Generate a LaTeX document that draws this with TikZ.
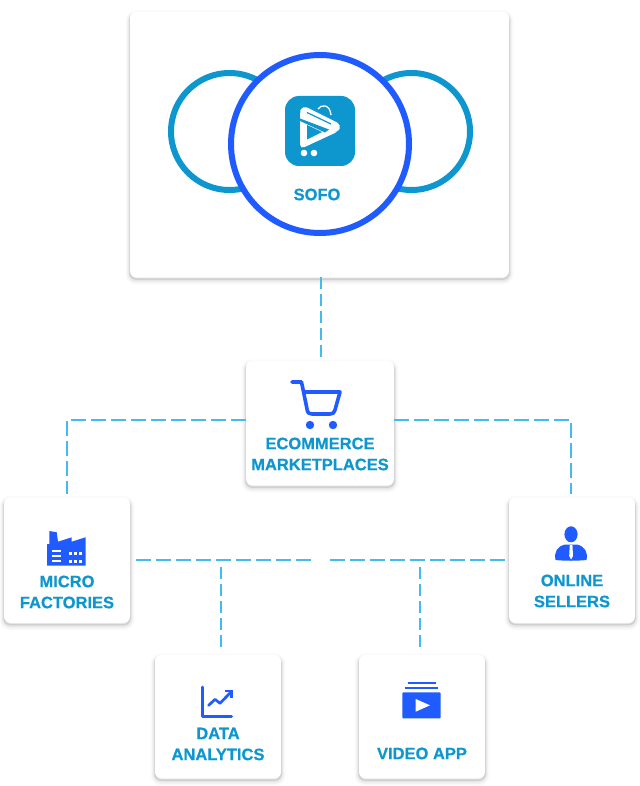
\documentclass[tikz,border=0pt]{standalone}
\usepackage{fontspec}
\setmainfont[BoldFeatures={FakeBold=0.6}]{Liberation Sans}
\definecolor{tealc}{HTML}{0E97CE}
\definecolor{bluec}{HTML}{1F5BFF}
\definecolor{dashc}{HTML}{44BBEE}
\tikzset{
  softshadow/.style={
    preaction={draw=black,draw opacity=.018,line width=9pt,transform canvas={yshift=-3pt}},
    preaction={draw=black,draw opacity=.03,line width=6pt,transform canvas={yshift=-3pt}},
    preaction={draw=black,draw opacity=.05,line width=3.5pt,transform canvas={yshift=-2.5pt}},
    preaction={draw=black,draw opacity=.10,line width=1.5pt,transform canvas={yshift=-2pt}}},
  card/.style={rectangle,rounded corners=6pt,fill=white,inner sep=0pt,softshadow},
  smallcard/.style={card,minimum width=126pt,minimum height=125pt},
  link/.style={draw=dashc,line width=1.9pt,dash pattern=on 15pt off 5pt},
  vlink/.style={draw=dashc,line width=1.9pt,dash pattern=on 12pt off 5pt},
  lab/.style={text=tealc,font=\fontsize{16.5}{21}\selectfont\bfseries,inner sep=0pt,align=center},
  iconline/.style={draw=bluec,line width=3.6pt,line cap=round,line join=round},
  ring/.style={draw=tealc,line width=6pt,fill=white},
}
\begin{document}
\begin{tikzpicture}[x=1pt,y=-1pt]
\useasboundingbox (0,0) rectangle (639,786);
% cards
\node[card,minimum width=379pt,minimum height=265pt] (sofo) at (319.5,144.5) {};
\node[card,minimum width=148pt,minimum height=124pt] (eco) at (320,423) {};
\node[smallcard] (micro) at (67,560) {};
\node[smallcard] (online) at (572,560) {};
\node[smallcard,minimum height=123pt] (data) at (218,716.5) {};
\node[smallcard,minimum height=123pt] (video) at (422,716.5) {};
% rings
\node[ring,circle,minimum size=117pt,inner sep=0pt] (ringL) at (229.5,131.5) {};
\node[ring,circle,minimum size=117pt,inner sep=0pt] (ringR) at (411.5,131.5) {};
\node[circle,draw=bluec,line width=6pt,fill=white,minimum size=178pt,inner sep=0pt] (ringC) at (320,144) {};
% connectors
\coordinate (midL) at (313,560);
\coordinate (midR) at (328,560);
\coordinate (dataT) at (221,567);
\coordinate (videoT) at (420,567);
\draw[vlink,shorten >=4pt] ([xshift=1pt]sofo.south -| eco.north) -- ([xshift=1pt]eco.north);
\draw[link,shorten >=3pt] ([yshift=3pt]eco.west) -| ([xshift=0pt]micro.north);
\draw[link,shorten >=3pt] ([yshift=3pt]eco.east) -| ([xshift=-1pt]online.north);
\draw[link,shorten <=6pt] (micro.east) -- (midL);
\draw[link,shorten <=4pt] (online.west) -- (midR);
\draw[vlink,shorten >=7pt] (dataT) -- (dataT |- data.north);
\draw[vlink,shorten >=7pt] (videoT) -- (videoT |- video.north);
% SOFO logo
\begin{scope}[shift={(285,96)}]
  \fill[tealc,rounded corners=14pt] (0,0) rectangle (70,70);
  \draw[white,line width=1.3pt] (33,13) .. controls (36,8) and (45,8) .. (46,19);
  \draw[white,line width=10pt,line cap=round] (20,16) -- (50,31);
  \fill[white,rounded corners=2pt] (15,16) -- (52,36) -- (17.5,52) -- (15,50.5) -- cycle;
  \draw[tealc,line width=1.2pt] (22,16.5) -- (46,28);
  \fill[tealc] (15,22.5) -- (15,25) -- (40,36.5) -- (44,33.5) -- cycle;
  \fill[tealc] (22,29) -- (37,36) -- (22,43.5) -- cycle;
  \fill[white] (19,57) circle (3.3);
  \fill[white] (29,57) circle (3.3);
\end{scope}
% cart
\draw[iconline] (292,382) -- (301.5,382) -- (307,409) .. controls (307.5,413) and (309,414) .. (312,414) -- (330,414) .. controls (333,414) and (334,413) .. (335,410) -- (340,392) -- (303.5,392);
\fill[bluec] (310,425) circle (4.2);
\fill[bluec] (333,425) circle (4.2);
% factory
\fill[bluec] (47,565.5) -- (47,544.3) -- (49.3,544) -- (49.3,531) -- (56.7,532.3) -- (58,541.7) -- (71.7,537.3) -- (71.7,541.7) -- (85.5,537.3) -- (85.5,565.5) -- cycle;
\fill[white] (52,550.2) rectangle (61,552);
\fill[white] (52,555) rectangle (61,556.8);
\fill[white] (52,559.8) rectangle (61,561.6);
\foreach \x in {69,74,79}{\foreach \y in {552,559.5}{\fill[white] (\x,\y) rectangle ++(2.6,3);}}
% person
\fill[bluec] (571,534.3) ellipse (6.6 and 8);
\fill[bluec] (555.5,560) .. controls (554,552) and (557,546.5) .. (565,544.5) -- (577,544.5) .. controls (585,546.5) and (588,552) .. (586.5,560) .. controls (576,561) and (566,561) .. (555.5,560) -- cycle;
\fill[white] (569.8,545) -- (572.4,545) -- (572.6,548) -- (573,556) -- (571.1,559.5) -- (569.2,556) -- (569.6,548) -- cycle;
% chart
\draw[iconline,line width=3pt] (202.7,687) -- (202.7,716) -- (231.5,716);
\draw[iconline,line width=2.7pt] (208.5,705.5) -- (215,699.3) -- (220,703.3) -- (230,693);
\draw[iconline,line width=2.7pt,line cap=butt,line join=miter] (225,691) -- (231.5,691) -- (231.5,698);
% video
\draw[bluec,line width=2.2pt] (407.5,682.7) -- (436,682.7);
\draw[bluec,line width=2.2pt] (405,688.3) -- (438.3,688.3);
\fill[bluec,rounded corners=1pt] (402.3,692.3) rectangle (440.7,718.3);
\fill[white] (415.7,699) -- (430,705.3) -- (415.7,711.7) -- cycle;
% labels
\node[lab] (tSofo) at (317,194.5) {SOFO};
\node[lab] (tEco) at (320,454) {ECOMMERCE\\MARKETPLACES};
\node[lab] (tMicro) at (67,592) {MICRO\\FACTORIES};
\node[lab] (tOnline) at (572,591) {ONLINE\\SELLERS};
\node[lab] (tData) at (218,744) {DATA\\ANALYTICS};
\node[lab] (tVideo) at (422,753.5) {VIDEO APP};
\end{tikzpicture}
\end{document}
